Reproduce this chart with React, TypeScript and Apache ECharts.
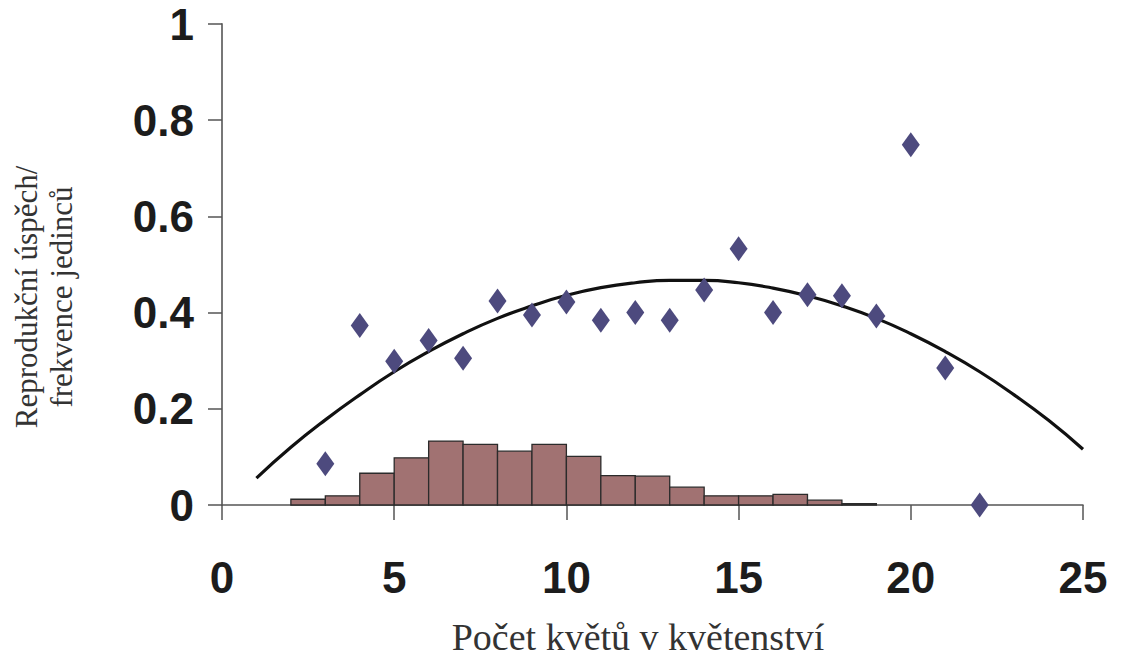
import React, { useEffect, useRef } from "react";
import * as echarts from "echarts";

// Histogram: bin start, bin end, relative frequency
const binStarts = [2, 3, 4, 5, 6, 7, 8, 9, 10, 11, 12, 13, 14, 15, 16, 17, 18];
const binFreq = [0.012, 0.019, 0.066, 0.098, 0.133, 0.126, 0.112, 0.126, 0.101, 0.061, 0.06, 0.037, 0.019, 0.019, 0.022, 0.01, 0.003];

// Reproductive success per inflorescence size
const flowerCounts = [3, 4, 5, 6, 7, 8, 9, 10, 11, 12, 13, 14, 15, 16, 17, 18, 19, 20, 21, 22];
const successValues = [0.086, 0.373, 0.299, 0.342, 0.305, 0.424, 0.395, 0.422, 0.384, 0.4, 0.384, 0.447, 0.533, 0.4, 0.437, 0.435, 0.393, 0.749, 0.285, 0];

// Trend curve
const trendX = [1, 2, 3, 4, 5, 6, 7, 8, 9, 10, 11, 12, 13, 14, 15, 16, 17, 18, 19, 20, 21, 22, 23, 24, 25];
const trendY = [0.056, 0.12, 0.177, 0.229, 0.277, 0.319, 0.356, 0.388, 0.414, 0.436, 0.452, 0.462, 0.467, 0.467, 0.462, 0.451, 0.435, 0.414, 0.388, 0.356, 0.319, 0.277, 0.229, 0.176, 0.116];

const xTicks = { min: 0, max: 25, interval: 5 };
const yTicks = { min: 0, max: 1, interval: 0.2 };

const xName = "Počet květů v květenství";
const yName = "Reprodukční úspěch/\nfrekvence jedinců";

export default function App() {
  const ref = useRef<HTMLDivElement>(null);

  useEffect(() => {
    if (!ref.current) return;
    const chart = echarts.init(ref.current, null, { renderer: "svg" });

    const histData = binStarts.map((s, i) => [s, s + 1, binFreq[i]]);
    const scatterData = flowerCounts.map((x, i) => [x, successValues[i]]);
    const trendData = trendX.map((x, i) => [x, trendY[i]]);

    const axisLabelStyle = {
      fontFamily: "'Liberation Sans', Arial, sans-serif",
      fontWeight: "bold" as const,
      fontSize: 44,
      color: "#1c1c1c",
    };

    chart.setOption({
      animation: false,
      backgroundColor: "#ffffff",
      grid: { left: 222, right: 38, top: 24, bottom: 152, containLabel: false },
      xAxis: {
        type: "value",
        min: xTicks.min,
        max: xTicks.max,
        interval: xTicks.interval,
        axisLine: { show: true, lineStyle: { color: "#555", width: 1.5 } },
        axisTick: { show: true, length: 15, lineStyle: { color: "#555", width: 1.5 } },
        splitLine: { show: false },
        axisLabel: { ...axisLabelStyle, margin: 50 },
      },
      yAxis: {
        type: "value",
        min: yTicks.min,
        max: yTicks.max,
        interval: yTicks.interval,
        axisLine: { show: true, lineStyle: { color: "#777", width: 2 } },
        axisTick: { show: true, length: 14, lineStyle: { color: "#555", width: 1.5 } },
        splitLine: { show: false },
        axisLabel: { ...axisLabelStyle, margin: 28 },
      },
      graphic: [
        {
          type: "text",
          x: 44,
          y: 297,
          rotation: Math.PI / 2,
          style: {
            text: yName,
            font: "31px 'Liberation Serif', 'Times New Roman', serif",
            fill: "#333",
            textAlign: "center",
            textVerticalAlign: "middle",
            lineHeight: 35,
          },
        },
        {
          type: "text",
          x: 638,
          y: 637,
          style: {
            text: xName,
            font: "38px 'Liberation Serif', 'Times New Roman', serif",
            fill: "#333",
            textAlign: "center",
            textVerticalAlign: "middle",
          },
        },
      ],
      series: [
        {
          type: "custom",
          z: 1,
          data: histData,
          encode: { x: [0, 1], y: 2 },
          renderItem: (params: any, api: any) => {
            const p0 = api.coord([api.value(0), 0]);
            const p1 = api.coord([api.value(1), api.value(2)]);
            return {
              type: "rect",
              shape: { x: p0[0], y: p1[1], width: p1[0] - p0[0], height: p0[1] - p1[1] },
              style: { fill: "#a17272", stroke: "#2b2b2b", lineWidth: 1.3 },
            };
          },
        },
        {
          type: "line",
          z: 2,
          data: trendData,
          smooth: true,
          showSymbol: false,
          symbol: "none",
          lineStyle: { color: "#111", width: 3.2 },
        },
        {
          type: "scatter",
          z: 3,
          data: scatterData,
          symbol: "diamond",
          symbolSize: [18, 25],
          itemStyle: { color: "#4d4a7e", opacity: 1 },
        },
      ],
    });

    return () => chart.dispose();
  }, []);

  return (
    <div
      ref={ref}
      style={{ position: "fixed", left: 0, top: 0, width: 1121, height: 657, background: "#fff" }}
    />
  );
}
